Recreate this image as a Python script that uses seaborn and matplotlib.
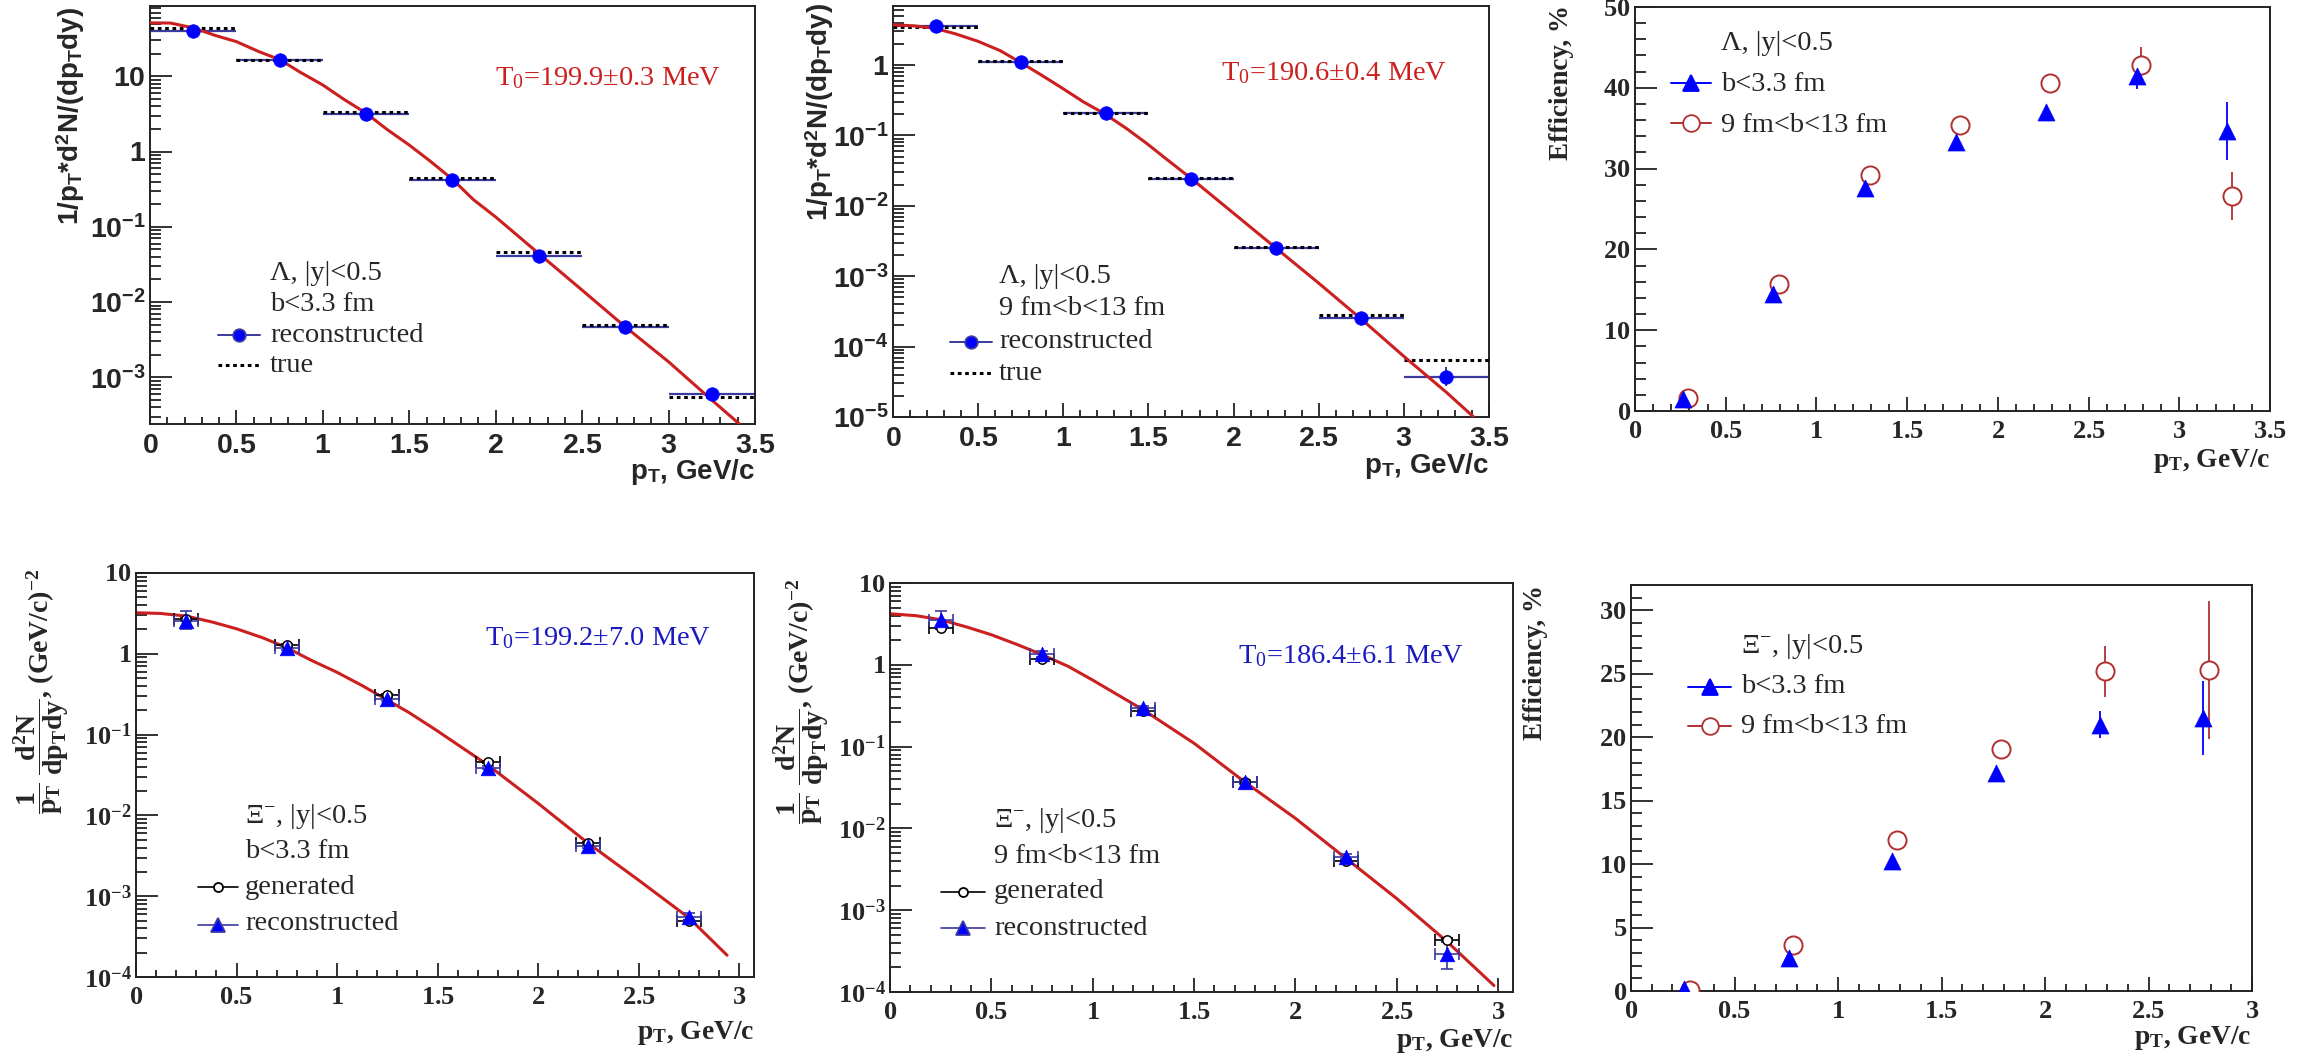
import numpy as np
import pandas as pd
import matplotlib
matplotlib.use("Agg")
import matplotlib.pyplot as plt
import seaborn as sns
from matplotlib.lines import Line2D
from matplotlib.ticker import MultipleLocator, LogLocator, FuncFormatter, NullFormatter

# ---------------------------------------------------------------- data
# Lambda spectra: pT bins of 0.5 GeV/c
lam_bin_lo = [0.0, 0.5, 1.0, 1.5, 2.0, 2.5, 3.0]
lam_bin_hi = [0.5, 1.0, 1.5, 2.0, 2.5, 3.0, 3.5]
lam_pt = [0.25, 0.75, 1.25, 1.75, 2.25, 2.75, 3.25]

# central collisions, b < 3.3 fm
lamC_reco = [39.7, 16.7, 3.14, 0.414, 0.0414, 0.00467, 5.96e-4]
lamC_true = [44.0, 16.6, 3.34, 0.449, 0.0468, 0.00492, 5.56e-4]
lamC_fit_pt = [0.0, 0.12, 0.25, 0.38, 0.5, 0.63, 0.75, 0.87, 1.0, 1.12, 1.25, 1.37, 1.5,
               1.62, 1.75, 1.87, 2.0, 2.25, 2.5, 2.75, 3.0, 3.25, 3.41]
lamC_fit = [51.4, 51.0, 44.0, 34.8, 28.9, 21.3, 16.7, 11.3, 7.66, 4.98, 3.24, 1.98, 1.22,
            0.75, 0.428, 0.231, 0.135, 0.044, 0.0144, 0.00468, 0.00161, 5.0e-4, 2.4e-4]

# peripheral collisions, 9 fm < b < 13 fm
lamP_reco = [3.53, 1.11, 0.206, 0.0241, 0.0025, 2.54e-4, 3.66e-5]
lamP_reco_lo = [3.46, 1.08, 0.200, 0.0235, 0.00244, 2.45e-4, 2.72e-5]
lamP_reco_hi = [3.60, 1.14, 0.212, 0.0247, 0.00256, 2.63e-4, 5.2e-5]
lamP_true = [3.5, 1.14, 0.206, 0.0252, 0.00258, 2.83e-4, 6.5e-5]
lamP_fit_pt = [0.0, 0.12, 0.24, 0.37, 0.5, 0.63, 0.74, 0.86, 0.99, 1.12, 1.24, 1.37, 1.49,
               1.6, 1.75, 2.0, 2.25, 2.5, 2.75, 3.0, 3.25, 3.41]
lamP_fit = [3.73, 3.61, 3.35, 2.76, 2.17, 1.6, 1.12, 0.75, 0.476, 0.298, 0.205, 0.126, 0.077,
            0.0473, 0.0246, 7.85e-3, 2.5e-3, 7.97e-4, 2.46e-4, 7.27e-5, 2.24e-5, 1.0e-5]

# Lambda efficiency, %
effL_c_pt = [0.262, 0.76, 1.266, 1.767, 2.264, 2.765, 3.265]
effL_c = [1.45, 14.5, 27.6, 33.3, 37.0, 41.4, 34.7]
effL_c_err = [0.3, 0.4, 0.5, 0.6, 0.7, 1.5, 3.6]
effL_p_pt = [0.29, 0.793, 1.293, 1.794, 2.286, 2.789, 3.29]
effL_p = [1.65, 15.7, 29.2, 35.4, 40.6, 42.8, 26.6]
effL_p_err = [0.3, 0.4, 0.5, 0.6, 0.8, 2.2, 3.0]

# Xi- spectra
xi_pt = [0.25, 0.75, 1.25, 1.75, 2.25, 2.75]
xi_dpt = [0.06, 0.06, 0.06, 0.06, 0.06, 0.06]

xiC_gen = [2.72, 1.29, 0.307, 0.0463, 4.5e-3, 4.9e-4]
xiC_gen_err = [0.08, 0.03, 0.008, 0.0015, 1.5e-4, 2.0e-5]
xiC_reco = [2.56, 1.18, 0.274, 0.039, 4.2e-3, 5.55e-4]
xiC_reco_lo = [2.02, 1.12, 0.262, 0.0372, 3.95e-3, 4.9e-4]
xiC_reco_hi = [3.35, 1.24, 0.286, 0.0408, 4.45e-3, 6.2e-4]
xiC_fit_pt = [0.0, 0.12, 0.25, 0.38, 0.5, 0.63, 0.75, 0.87, 1.0, 1.13, 1.24, 1.36, 1.49,
              1.75, 2.0, 2.25, 2.5, 2.75, 2.94]
xiC_fit = [3.22, 3.16, 2.93, 2.47, 2.04, 1.58, 1.19, 0.835, 0.59, 0.398, 0.277, 0.186, 0.115,
           0.042, 0.0141, 4.5e-3, 1.58e-3, 5.4e-4, 1.86e-4]

xiP_gen = [2.81, 1.18, 0.276, 0.0366, 4.0e-3, 4.37e-4]
xiP_gen_err = [0.1, 0.03, 0.008, 0.0012, 1.5e-4, 2.0e-5]
xiP_reco = [3.56, 1.36, 0.295, 0.037, 4.5e-3, 2.94e-4]
xiP_reco_lo = [2.9, 1.26, 0.28, 0.0352, 4.2e-3, 1.93e-4]
xiP_reco_hi = [4.5, 1.46, 0.31, 0.0388, 4.8e-3, 4.1e-4]
xiP_fit_pt = [0.0, 0.13, 0.25, 0.38, 0.5, 0.63, 0.75, 0.88, 1.0, 1.25, 1.5, 1.75, 2.0,
              2.25, 2.5, 2.75, 2.98]
xiP_fit = [4.21, 3.98, 3.56, 2.89, 2.33, 1.76, 1.33, 0.955, 0.65, 0.281, 0.11, 0.037, 0.0133,
           4.3e-3, 1.39e-3, 4.1e-4, 1.2e-4]

# Xi- efficiency, %
effX_c_pt = [0.257, 0.761, 1.26, 1.762, 2.265, 2.765]
effX_c = [0.18, 2.63, 10.24, 17.2, 21.0, 21.5]
effX_c_err = [0.1, 0.2, 0.3, 0.4, 1.05, 2.9]
effX_p_pt = [0.286, 0.785, 1.284, 1.788, 2.29, 2.794]
effX_p = [0.1, 3.6, 11.9, 19.04, 25.2, 25.3]
effX_p_err = [0.1, 0.3, 0.4, 0.6, 2.0, 5.45]

# ---------------------------------------------------------------- style
sns.set_style("ticks")
plt.rcParams.update({
    "mathtext.fontset": "custom",
    "mathtext.rm": "Liberation Serif",
    "mathtext.it": "Liberation Serif:italic",
    "mathtext.bf": "Liberation Serif:bold",
    "mathtext.sf": "Liberation Sans:bold",
    "axes.linewidth": 1.4,
    "axes.edgecolor": "#222222",
})
plt.rcParams["font.family"] = ["Liberation Serif", "DejaVu Sans"]

W, H = 2314, 1060
fig = plt.figure(figsize=(W / 100, H / 100), dpi=100)
fig.patch.set_facecolor("white")

SANS = "Liberation Sans"
SERIF = "Liberation Serif"
BLUE = "#0000ff"
BAR = "#3a3aa0"
RED = "#cc2020"
DRED = "#b03030"
TBLUE = "#1a1ac0"

LEG = 20.5          # legend / annotation text size
TITLE_SANS = 20     # axis title size, sans panels
TITLE_SERIF = 19.8  # axis title size, serif panels
TICK_SANS = 20.5    # tick label size, sans panels
TICK_SERIF = 19     # tick label size, serif panels
T0SIZE = 20.4


def fx(px):
    return px / W


def fy(py):
    return 1 - py / H


def make_axes(l, r, t, b):
    return fig.add_axes([fx(l), fy(b), (r - l) / W, (b - t) / H])


def wrap(style, s):
    cmd = r"\mathsf" if style == "sans" else r"\mathbf"
    return r"$%s{%s}$" % (cmd, s)


def log_fmt(style):
    def f(v, pos):
        e = int(round(np.log10(v)))
        if e == 0:
            return wrap(style, "1")
        if e == 1:
            return wrap(style, "10")
        return wrap(style, "10^{%d}" % e)
    return FuncFormatter(f)


def lin_fmt(style):
    return FuncFormatter(lambda v, p: wrap(style, "%g" % round(v, 3)))


def root_ticks(ax, xmaj, xmin, ymaj=None, ymin=None, logy=False, style="sans"):
    if logy:
        ax.set_yscale("log")
    size = TICK_SANS if style == "sans" else TICK_SERIF
    ax.tick_params(which="both", direction="in", top=False, right=False,
                   width=1.3, color="#222222", labelsize=size)
    ax.tick_params(axis="x", which="major", length=10, pad=7)
    ax.tick_params(axis="x", which="minor", length=5)
    ax.tick_params(axis="y", which="major", length=16, pad=3)
    ax.tick_params(axis="y", which="minor", length=8)
    ax.xaxis.set_major_locator(MultipleLocator(xmaj))
    ax.xaxis.set_minor_locator(MultipleLocator(xmin))
    ax.xaxis.set_major_formatter(lin_fmt(style))
    if logy:
        ax.yaxis.set_major_locator(LogLocator(base=10, numticks=20))
        ax.yaxis.set_minor_locator(LogLocator(base=10, subs=np.arange(2, 10), numticks=20))
        ax.yaxis.set_major_formatter(log_fmt(style))
        ax.yaxis.set_minor_formatter(NullFormatter())
    else:
        ax.yaxis.set_major_locator(MultipleLocator(ymaj))
        ax.yaxis.set_minor_locator(MultipleLocator(ymin))
        ax.yaxis.set_major_formatter(lin_fmt(style))
    for s in ax.spines.values():
        s.set_visible(True)
    ax.grid(False)


def ftext(x, y, s, **kw):
    fig.text(fx(x), fy(y), s, **kw)


def legend_line(x0, x1, y, color, ls="-", marker=None, ms=10, mfc=None, lw=1.4):
    fig.add_artist(Line2D([fx(x0), fx(x1)], [fy(y), fy(y)], color=color, lw=lw, ls=ls,
                          transform=fig.transFigure))
    if marker is not None:
        fig.add_artist(Line2D([fx((x0 + x1) / 2)], [fy(y)], marker=marker, ms=ms,
                              mfc=mfc if mfc else color, mec=color, mew=1.3, ls="none",
                              transform=fig.transFigure))


def spectrum_lambda(ax, reco, true, fit_pt, fit, ylim, reco_lo=None, reco_hi=None):
    ax.hlines(true, lam_bin_lo, lam_bin_hi, colors="black", linestyles=(0, (1.2, 1.2)), lw=2.2, zorder=3)
    ax.hlines(reco, lam_bin_lo, lam_bin_hi, colors=BAR, lw=1.6, zorder=2)
    if reco_lo is not None:
        yerr = [np.array(reco) - np.array(reco_lo), np.array(reco_hi) - np.array(reco)]
        ax.errorbar(lam_pt, reco, yerr=yerr, fmt="none", ecolor=BAR, elinewidth=1.4, zorder=2)
    sns.lineplot(x=fit_pt, y=fit, ax=ax, color=RED, lw=2.2, zorder=4, sort=False)
    sns.scatterplot(x=lam_pt, y=reco, ax=ax, color=BLUE, marker="o", s=95,
                    edgecolor=BLUE, linewidth=0.5, zorder=5)
    ax.set_xlim(0, 3.5)
    ax.set_ylim(*ylim)


def spectrum_xi(ax, gen, gen_err, reco, reco_lo, reco_hi, fit_pt, fit):
    sns.lineplot(x=fit_pt, y=fit, ax=ax, color=RED, lw=2.2, zorder=2, sort=False)
    ax.errorbar(xi_pt, gen, xerr=xi_dpt, yerr=gen_err, fmt="none", ecolor="black",
                elinewidth=1.2, capsize=4, capthick=1.2, zorder=3)
    yerr = [np.array(reco) - np.array(reco_lo), np.array(reco_hi) - np.array(reco)]
    ax.errorbar(xi_pt, reco, xerr=xi_dpt, yerr=yerr, fmt="none", ecolor=BAR,
                elinewidth=1.2, capsize=4, capthick=1.2, zorder=3)
    sns.scatterplot(x=xi_pt, y=gen, ax=ax, marker="o", s=45, facecolor="white",
                    edgecolor="black", linewidth=1.1, zorder=4)
    sns.scatterplot(x=xi_pt, y=reco, ax=ax, marker="^", s=110, color=BLUE,
                    edgecolor=BLUE, linewidth=0.5, zorder=5)
    ax.set_xlim(0, 3.074)
    ax.set_ylim(1e-4, 10)


def efficiency(ax, c_pt, c, c_err, p_pt, p, p_err):
    ax.errorbar(c_pt, c, yerr=c_err, fmt="none", ecolor=BLUE, elinewidth=1.3, zorder=3)
    ax.errorbar(p_pt, p, yerr=p_err, fmt="none", ecolor=DRED, elinewidth=1.3, zorder=3)
    sns.scatterplot(x=c_pt, y=c, ax=ax, marker="^", s=150, color=BLUE,
                    edgecolor=BLUE, linewidth=0.5, zorder=5)
    sns.scatterplot(x=p_pt, y=p, ax=ax, marker="o", s=170, facecolor="white",
                    edgecolor=DRED, linewidth=1.4, zorder=4)


sans_title = dict(fontsize=TITLE_SANS, fontfamily=SANS, fontweight="bold")
serif_title = dict(fontsize=TITLE_SERIF, fontfamily=SERIF, fontweight="bold")
leg = dict(fontsize=LEG, fontfamily=SERIF, va="baseline")
lam_ylab = r"1/p$_\mathsf{T}$*d$^\mathsf{2}$N/(dp$_\mathsf{T}$dy)"
xi_ylab = r"$\mathbf{\dfrac{1}{p_T}\ \dfrac{d^2N}{dp_Tdy}}$, (GeV/c)$^\mathbf{-2}$"

# ---------------------------------------------------------------- panel 1: Lambda, central
ax1 = make_axes(150, 755, 6, 424)
spectrum_lambda(ax1, lamC_reco, lamC_true, lamC_fit_pt, lamC_fit, (2.4e-4, 86))
root_ticks(ax1, 0.5, 0.1, logy=True, style="sans")
ftext(755, 479, r"p$_\mathsf{T}$, GeV/c", ha="right", va="baseline", **sans_title)
ftext(71, 7, lam_ylab, rotation=90, ha="center", va="top", fontsize=20, fontfamily=SANS,
      fontweight="bold")
ftext(495, 85, r"T$_\mathrm{0}$=199.9±0.3 MeV", color=RED, fontsize=T0SIZE, fontfamily=SERIF,
      va="baseline")
ftext(270, 280, "Λ, |y|<0.5", **leg)
ftext(270, 311, "b<3.3 fm", **leg)
ftext(270, 342, "reconstructed", **leg)
ftext(270, 372, "true", **leg)
legend_line(218, 260, 335, BAR, marker="o", ms=9, mfc=BLUE)
legend_line(218, 260, 365, "black", ls=(0, (1.2, 1.2)), lw=2.2)

# ---------------------------------------------------------------- panel 2: Lambda, peripheral
ax2 = make_axes(893, 1489, 6, 417)
spectrum_lambda(ax2, lamP_reco, lamP_true, lamP_fit_pt, lamP_fit, (1e-5, 6.9),
                reco_lo=lamP_reco_lo, reco_hi=lamP_reco_hi)
root_ticks(ax2, 0.5, 0.1, logy=True, style="sans")
ftext(1489, 473, r"p$_\mathsf{T}$, GeV/c", ha="right", va="baseline", **sans_title)
ftext(820, 3, lam_ylab, rotation=90, ha="center", va="top", fontsize=20, fontfamily=SANS,
      fontweight="bold")
ftext(1221, 80, r"T$_\mathrm{0}$=190.6±0.4 MeV", color=RED, fontsize=T0SIZE, fontfamily=SERIF,
      va="baseline")
ftext(999, 283, "Λ, |y|<0.5", **leg)
ftext(999, 315, "9 fm<b<13 fm", **leg)
ftext(999, 348, "reconstructed", **leg)
ftext(999, 380, "true", **leg)
legend_line(950, 992, 342, BAR, marker="o", ms=9, mfc=BLUE)
legend_line(950, 992, 373, "black", ls=(0, (1.2, 1.2)), lw=2.2)

# ---------------------------------------------------------------- panel 3: Lambda efficiency
ax3 = make_axes(1635, 2270, 7, 411)
efficiency(ax3, effL_c_pt, effL_c, effL_c_err, effL_p_pt, effL_p, effL_p_err)
ax3.set_xlim(0, 3.5)
ax3.set_ylim(0, 50)
root_ticks(ax3, 0.5, 0.1, ymaj=10, ymin=2, style="serif")
ftext(2270, 467, r"p$_\mathbf{T}$, GeV/c", ha="right", va="baseline", **serif_title)
ftext(1562, 5, "Efficiency, %", rotation=90, ha="center", va="top", fontsize=19.5,
      fontfamily=SERIF, fontweight="bold")
ftext(1721, 50, "Λ, |y|<0.5", **leg)
ftext(1721, 91, "b<3.3 fm", **leg)
ftext(1721, 132, "9 fm<b<13 fm", **leg)
legend_line(1671, 1711, 83, BLUE, marker="^", ms=12)
legend_line(1671, 1711, 123, DRED, marker="o", ms=12, mfc="white")

# ---------------------------------------------------------------- panel 4: Xi-, central
ax4 = make_axes(136, 754, 573, 977)
spectrum_xi(ax4, xiC_gen, xiC_gen_err, xiC_reco, xiC_reco_lo, xiC_reco_hi, xiC_fit_pt, xiC_fit)
root_ticks(ax4, 0.5, 0.1, logy=True, style="serif")
ftext(754, 1039, r"p$_\mathbf{T}$, GeV/c", ha="right", va="baseline", **serif_title)
ftext(42, 568, xi_ylab, rotation=90, ha="center", va="top", fontsize=20,
      fontfamily=SERIF, fontweight="bold")
ftext(485, 645, r"T$_\mathrm{0}$=199.2±7.0 MeV", color=TBLUE, fontsize=T0SIZE,
      fontfamily=SERIF, va="baseline")
ftext(245, 823, r"Ξ$^\mathrm{-}$, |y|<0.5", **leg)
ftext(245, 858, "b<3.3 fm", **leg)
ftext(245, 894, "generated", **leg)
ftext(245, 930, "reconstructed", **leg)
legend_line(198, 238, 887, "black", marker="o", ms=6.5, mfc="white", lw=1.2)
legend_line(198, 238, 925, BAR, marker="^", ms=10, mfc=BLUE, lw=1.2)

# ---------------------------------------------------------------- panel 5: Xi-, peripheral
ax5 = make_axes(890, 1513, 583, 992)
spectrum_xi(ax5, xiP_gen, xiP_gen_err, xiP_reco, xiP_reco_lo, xiP_reco_hi, xiP_fit_pt, xiP_fit)
root_ticks(ax5, 0.5, 0.1, logy=True, style="serif")
ftext(1513, 1047, r"p$_\mathbf{T}$, GeV/c", ha="right", va="baseline", **serif_title)
ftext(802, 578, xi_ylab, rotation=90, ha="center", va="top", fontsize=20,
      fontfamily=SERIF, fontweight="bold")
ftext(1238, 663, r"T$_\mathrm{0}$=186.4±6.1 MeV", color=TBLUE, fontsize=T0SIZE,
      fontfamily=SERIF, va="baseline")
ftext(994, 827, r"Ξ$^\mathrm{-}$, |y|<0.5", **leg)
ftext(994, 863, "9 fm<b<13 fm", **leg)
ftext(994, 898, "generated", **leg)
ftext(994, 935, "reconstructed", **leg)
legend_line(941, 985, 892, "black", marker="o", ms=6.5, mfc="white", lw=1.2)
legend_line(941, 985, 928, BAR, marker="^", ms=10, mfc=BLUE, lw=1.2)

# ---------------------------------------------------------------- panel 6: Xi- efficiency
ax6 = make_axes(1631, 2252, 585, 991)
efficiency(ax6, effX_c_pt, effX_c, effX_c_err, effX_p_pt, effX_p, effX_p_err)
ax6.set_xlim(0, 3.0)
ax6.set_ylim(0, 32)
root_ticks(ax6, 0.5, 0.1, ymaj=5, ymin=1, style="serif")
ftext(2251, 1044, r"p$_\mathbf{T}$, GeV/c", ha="right", va="baseline", **serif_title)
ftext(1535, 585, "Efficiency, %", rotation=90, ha="center", va="top", fontsize=19.5,
      fontfamily=SERIF, fontweight="bold")
ftext(1741, 653, r"Ξ$^\mathrm{-}$, |y|<0.5", **leg)
ftext(1741, 693, "b<3.3 fm", **leg)
ftext(1741, 733, "9 fm<b<13 fm", **leg)
legend_line(1688, 1731, 687, BLUE, marker="^", ms=12)
legend_line(1688, 1731, 726, DRED, marker="o", ms=12, mfc="white")

for ax in (ax1, ax2, ax3, ax4, ax5, ax6):
    ax.set_xlabel("")
    ax.set_ylabel("")
    ax.set_facecolor("white")

fig.savefig("out.png", dpi=100, facecolor="white")
